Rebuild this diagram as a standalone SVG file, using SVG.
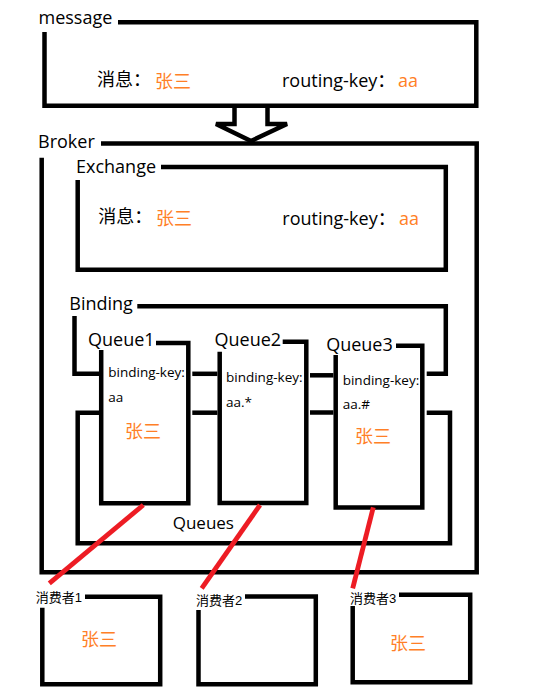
<svg xmlns="http://www.w3.org/2000/svg" width="550" height="698" viewBox="0 0 550 698">
<style>
.box{fill:none;stroke:#000;stroke-width:4.5;stroke-linejoin:miter;stroke-linecap:butt}
.t{font-family:"Open Sans","Noto Sans CJK SC",sans-serif;fill:#000}
.h{font-size:18px}
.k{font-size:13.5px}
.c{font-size:13px;font-family:"Liberation Sans","Noto Sans CJK SC",sans-serif}
.o{font-family:"Noto Sans CJK SC","Open Sans",sans-serif;font-size:18px;fill:#ff7f27}
.oa{font-family:"Open Sans",sans-serif;font-size:18px;fill:#ff7f27}
.red{fill:none;stroke:#ed1c24;stroke-width:4.8;stroke-linecap:butt}
</style>
<rect width="550" height="698" fill="#fff"/>

<g id="message">
<path class="box" d="M118,22.3 H476.3 V105.8 H44.5 V32"/>
<text class="t h" x="38.5" y="24">message</text>
<text class="t h" x="97" y="85.5">消息：</text>
<text class="o" x="155" y="87.5">张三</text>
<text class="t h" x="282" y="87.3">routing-key：</text>
<text class="oa" x="398" y="87.3">aa</text>
</g>

<g id="broker">
<path class="box" d="M101,143.5 H476.7 V572.3 H41.7 V157.7"/>
<text class="t h" x="38" y="148">Broker</text>
</g>

<g id="exchange">
<path class="box" d="M161,167 H445.8 V269.8 H77.7 V180"/>
<text class="t h" x="76" y="172.7">Exchange</text>
<text class="t h" x="98.3" y="222.5">消息：</text>
<text class="o" x="156" y="225">张三</text>
<text class="t h" x="282.3" y="225">routing-key：</text>
<text class="oa" x="399" y="225">aa</text>
</g>

<g id="binding">
<path class="box" d="M137.3,306.3 H445.8 V373.8 H426.7"/>
<path class="box" d="M74.5,316 V373.8 H99.3"/>
<path class="box" d="M192.3,373.8 H217.4"/>
<path class="box" d="M310,375.3 H333.4"/>
<text class="t h" x="69.3" y="310">Binding</text>
</g>

<g id="queues">
<path class="box" d="M99,412.7 H77.7 V543.3 H450 V412.8 H426.7"/>
<path class="box" d="M192.3,412.7 H217.4"/>
<path class="box" d="M310,412.5 H333.4"/>
<text class="t" style="font-size:17px" x="172.7" y="529.3">Queues</text>
</g>

<g id="queue1">
<path class="box" d="M156,343 H188.3 V503.3 H101.2 V350"/>
<text class="t h" x="88" y="346">Queue1</text>
<text class="t k" x="108.3" y="377">binding-key:</text>
<text class="t k" x="108.3" y="401.7">aa</text>
<text class="o" x="125" y="437.5">张三</text>
</g>

<g id="queue2">
<path class="box" d="M282.7,341.7 H306.3 V503 H219.7 V351.7"/>
<text class="t h" x="214.5" y="346">Queue2</text>
<text class="t k" x="226" y="382">binding-key:</text>
<text class="t k" x="226" y="407.3">aa.*</text>
</g>

<g id="queue3">
<path class="box" d="M396,345.7 H422.3 V507.5 H335.7 V355"/>
<text class="t h" x="326.2" y="350.5">Queue3</text>
<text class="t k" x="342.7" y="384.5">binding-key:</text>
<text class="t k" x="342.7" y="409">aa.#</text>
<text class="o" x="355" y="443">张三</text>
</g>

<g id="consumer1">
<path class="box" d="M85,596.7 H160.2 V684.2 H42.3 V607.7"/>
<text class="c" x="35.7" y="601.5">消费者1</text>
<text class="o" x="81" y="646">张三</text>
</g>

<g id="consumer2">
<path class="box" d="M245,596.5 H315.8 V684.2 H198.5 V610"/>
<text class="c" x="196" y="604.5">消费者2</text>
</g>

<g id="consumer3">
<path class="box" d="M399,594.7 H470.2 V682.3 H352.7 V606"/>
<text class="c" x="350" y="602.5">消费者3</text>
<text class="o" x="390" y="649.5">张三</text>
</g>

<g id="connectors">
<polyline class="box" points="234.5,105.8 234.5,124 216,124 251,141 287,124 267.5,124 267.5,105.8"/>
<line class="red" x1="143.3" y1="505" x2="49.3" y2="583.3"/>
<line class="red" x1="260" y1="505" x2="201.7" y2="588.3"/>
<line class="red" x1="373.3" y1="507.3" x2="352.7" y2="588.3"/>
</g>
</svg>
